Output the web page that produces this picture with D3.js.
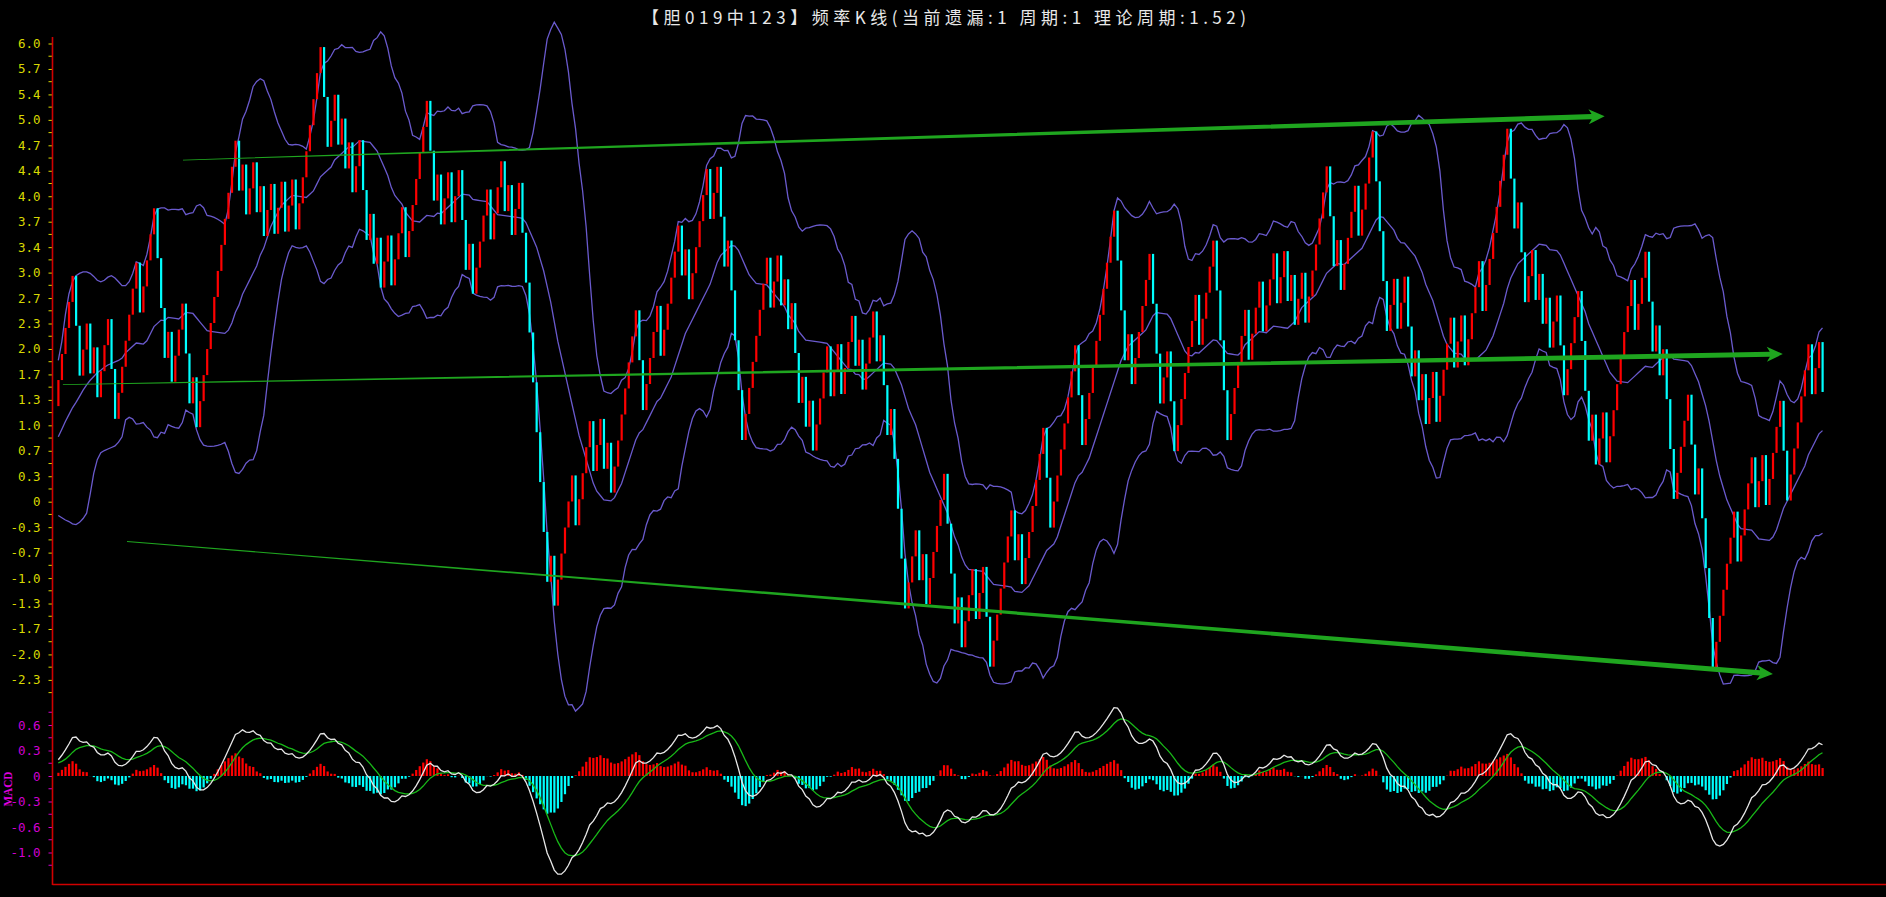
<!DOCTYPE html>
<html><head><meta charset="utf-8">
<script src="https://cdn.jsdelivr.net/npm/d3@7"></script>
<style>html,body{margin:0;padding:0;background:#000;overflow:hidden}</style>
</head><body>
<svg id="c" width="1886" height="897"></svg>
<script>
// ---------------- data ----------------
const title = "【胆019中123】频率K线(当前遗漏:1 周期:1 理论周期:1.52)";
// one digit per bar: 1 = hit (red bar, value steps up), 0 = miss (cyan bar, value steps down)
const hitRows = [
  "1111100110","1011100111","1110111100","0101110010","1111111111",
  "1010110101","1011011011","1111100110","1010110010","1011011101",
  "1111100101","1011001011","1101110101","1000000001","0111110111",
  "1011010111","1111001111","0111110101","1111011001","0000111111",
  "1011010100","1010111101","1011101011","1010010000","1110101111",
  "1000101110","1100111111","0101111110","0111111100","1111111110",
  "0010111110","0011001111","1101111000","0111110111","0111011010",
  "1101111110","0101111011","1100001101","1001010110","1111011011",
  "1101111111","0010011010","1011001111","0001011011","1111101110",
  "0101000111","1001000011","1111011110","1101111001","111110110"
];
const startValue = 1.252;   // open of the first bar
const upStep = 0.341;       // height of a red bar
const downStep = 0.653;     // height of a cyan bar

const yTickLabels = ["6.0","5.7","5.4","5.0","4.7","4.4","4.0","3.7","3.4","3.0","2.7","2.3","2.0",
  "1.7","1.3","1.0","0.7","0.3","0","-0.3","-0.7","-1.0","-1.3","-1.7","-2.0","-2.3"];
const macdTickLabels = ["0.6","0.3","0","-0.3","-0.6","-1.0"];

// Bollinger band values of the first 19 bars (window reaches before the chart)
const bollUpperHead = [1.85,2.10,2.45,2.72,2.88,2.96,2.99,3.01,3.01,2.99,2.95,2.90,2.88,2.90,2.94,2.96,2.93,2.88,2.83];
const bollMidHead   = [0.85,0.95,1.05,1.14,1.23,1.30,1.38,1.46,1.53,1.59,1.64,1.69,1.72,1.76,1.79,1.81,1.83,1.85,1.88];
const bollLowerHead = [-0.18,-0.21,-0.24,-0.26,-0.29,-0.30,-0.27,-0.22,-0.15,0.10,0.37,0.55,0.64,0.67,0.69,0.71,0.73,0.78,0.85];
// MACD state just before the first bar
const macdSeed = [0.90, 0.73, 0.16]; // EMA12, EMA26, DEA

// green trend arrows: [barIndex, value] start and end
const trendStarts = [[35.2, 4.474], [1.3, 1.532], [19.4, -0.521]];
const trendEnds   = [[436.5, 5.047], [486.8, 1.934], [484.0, -2.256]];

// ---------------- derived series ----------------
const hits = hitRows.join("").split("").map(Number);
const N = hits.length;
const opens = [], closes = [];
let cur = startValue;
hits.forEach(h => { opens.push(cur); cur = h ? cur + upStep : cur - downStep; closes.push(cur); });

const upper = [], mid = [], lower = [];
for (let i = 0; i < N; i++) {
  if (i < 19) { upper.push(bollUpperHead[i]); mid.push(bollMidHead[i]); lower.push(bollLowerHead[i]); continue; }
  const w = closes.slice(i - 19, i + 1);
  const m = d3.mean(w);
  const s = Math.sqrt(d3.mean(w, v => (v - m) * (v - m)));
  mid.push(m); upper.push(m + 2 * s); lower.push(m - 2 * s);
}
const dif = [], dea = [], hist = [];
let e12 = macdSeed[0], e26 = macdSeed[1], de = macdSeed[2];
closes.forEach(c => {
  e12 += (c - e12) * 2 / 13; e26 += (c - e26) * 2 / 27;
  const d = e12 - e26; de += (d - de) * 2 / 10;
  dif.push(d); dea.push(de); hist.push(d - de);
});

// ---------------- drawing ----------------
const svg = d3.select("#c");
svg.append("rect").attr("width", 1886).attr("height", 897).attr("fill", "#000");

const x = d3.scaleLinear().domain([0, N - 1]).range([58.3, 1822.5]);
const y = d3.scaleLinear().domain([0, 6]).range([501.7, 43.5]);
const ym = d3.scaleLinear().domain([0, 2 / 3]).range([776, 725]);
const axisX = 52.5;

svg.append("text").attr("x", 642).attr("y", 16)
  .attr("dominant-baseline", "central").attr("fill", "#e8e8e8")
  .attr("textLength", 604).attr("lengthAdjust", "spacing")
  .style("font", "17px 'Noto Sans CJK SC'").text(title);

// main y axis
const mainTicks = yTickLabels.map((t, i) => ({v: 6 - i / 3, t}));
const yAxis = d3.axisLeft(y).tickValues(mainTicks.map(d => d.v))
  .tickFormat((d, i) => mainTicks[i].t).tickSize(4).tickPadding(8);
const ga = svg.append("g").attr("transform", `translate(${axisX},0)`).call(yAxis);
ga.select(".domain").remove();
ga.selectAll("line").attr("stroke", "#d8d800");
ga.selectAll("text").attr("fill", "#d8d800").style("font", "12.5px 'DejaVu Sans Mono'");
const minorMain = d3.range(0, 26).map(i => 6 - (i + 0.5) / 3);
svg.append("g").selectAll("line").data(minorMain).join("line")
  .attr("x1", axisX - 4).attr("x2", axisX).attr("y1", d => y(d)).attr("y2", d => y(d)).attr("stroke", "#d8d800");

// macd y axis
const macdTicks = macdTickLabels.map((t, i) => ({v: 2 / 3 - i / 3, t}));
const mAxis = d3.axisLeft(ym).tickValues(macdTicks.map(d => d.v))
  .tickFormat((d, i) => macdTicks[i].t).tickSize(4).tickPadding(8);
const gm = svg.append("g").attr("transform", `translate(${axisX},0)`).call(mAxis);
gm.select(".domain").remove();
gm.selectAll("line").attr("stroke", "#d000d0");
gm.selectAll("text").attr("fill", "#d000d0").style("font", "12.5px 'DejaVu Sans Mono'");
const minorMacd = d3.range(0, 7).map(i => 5 / 6 - i / 3);
svg.append("g").selectAll("line").data(minorMacd).join("line")
  .attr("x1", axisX - 4).attr("x2", axisX).attr("y1", d => ym(d)).attr("y2", d => ym(d)).attr("stroke", "#d000d0");
svg.append("text").attr("transform", "translate(12,789) rotate(-90)").attr("text-anchor", "middle")
  .attr("fill", "#e000e0").attr("textLength", 35).attr("lengthAdjust", "spacingAndGlyphs")
  .style("font", "bold 13px 'Liberation Serif'").text("MACD");

// frame lines
svg.append("line").attr("x1", axisX).attr("x2", axisX).attr("y1", 37).attr("y2", 885)
  .attr("stroke", "#d00000").attr("stroke-width", 1.6);
svg.append("line").attr("x1", axisX).attr("x2", 1886).attr("y1", 884.5).attr("y2", 884.5)
  .attr("stroke", "#d00000").attr("stroke-width", 1.6);

// Bollinger lines
const bline = arr => d3.line().x((d, i) => x(i)).y(d => y(d))(arr);
[upper, mid, lower].forEach(arr => svg.append("path").attr("d", bline(arr))
  .attr("fill", "none").attr("stroke", "#6a5acd").attr("stroke-width", 1.3));

// candles
svg.append("g").selectAll("rect").data(hits).join("rect")
  .attr("x", (d, i) => x(i) - 1).attr("width", 2.2)
  .attr("y", (d, i) => y(Math.max(opens[i], closes[i])))
  .attr("height", (d, i) => Math.abs(y(opens[i]) - y(closes[i])))
  .attr("fill", d => d ? "#ff0000" : "#00ffff");

// trend arrows
trendStarts.forEach((s, k) => {
  const e = trendEnds[k];
  const p0 = [x(s[0]), y(s[1])], p1 = [x(e[0]), y(e[1])];
  const dx = p1[0] - p0[0], dy = p1[1] - p0[1], L = Math.hypot(dx, dy);
  const ux = dx / L, uy = dy / L, nx = -uy, ny = ux;
  const head = 13, hw = 7.5, w0 = 0.4, w1 = 2.6;
  const b = [p1[0] - ux * head, p1[1] - uy * head];
  const pts = [
    [p0[0] + nx * w0, p0[1] + ny * w0], [b[0] + nx * w1, b[1] + ny * w1],
    [b[0] - ux * 3 + nx * hw, b[1] - uy * 3 + ny * hw], p1,
    [b[0] - ux * 3 - nx * hw, b[1] - uy * 3 - ny * hw],
    [b[0] - nx * w1, b[1] - ny * w1], [p0[0] - nx * w0, p0[1] - ny * w0]];
  svg.append("path").attr("d", "M" + pts.map(p => p.join(",")).join("L") + "Z").attr("fill", "#1fa51f");
});

// MACD histogram and lines
svg.append("g").selectAll("rect").data(hist).join("rect")
  .attr("x", (d, i) => x(i) - 1).attr("width", 2.2)
  .attr("y", d => Math.min(ym(d), ym(0))).attr("height", d => Math.abs(ym(d) - ym(0)))
  .attr("fill", d => d >= 0 ? "#ff0000" : "#00ffff");
const mline = arr => d3.line().x((d, i) => x(i)).y(d => ym(d))(arr);
svg.append("path").attr("d", mline(dea)).attr("fill", "none").attr("stroke", "#18b818").attr("stroke-width", 1.3);
svg.append("path").attr("d", mline(dif)).attr("fill", "none").attr("stroke", "#e6e6e6").attr("stroke-width", 1.3);
</script>
</body></html>
